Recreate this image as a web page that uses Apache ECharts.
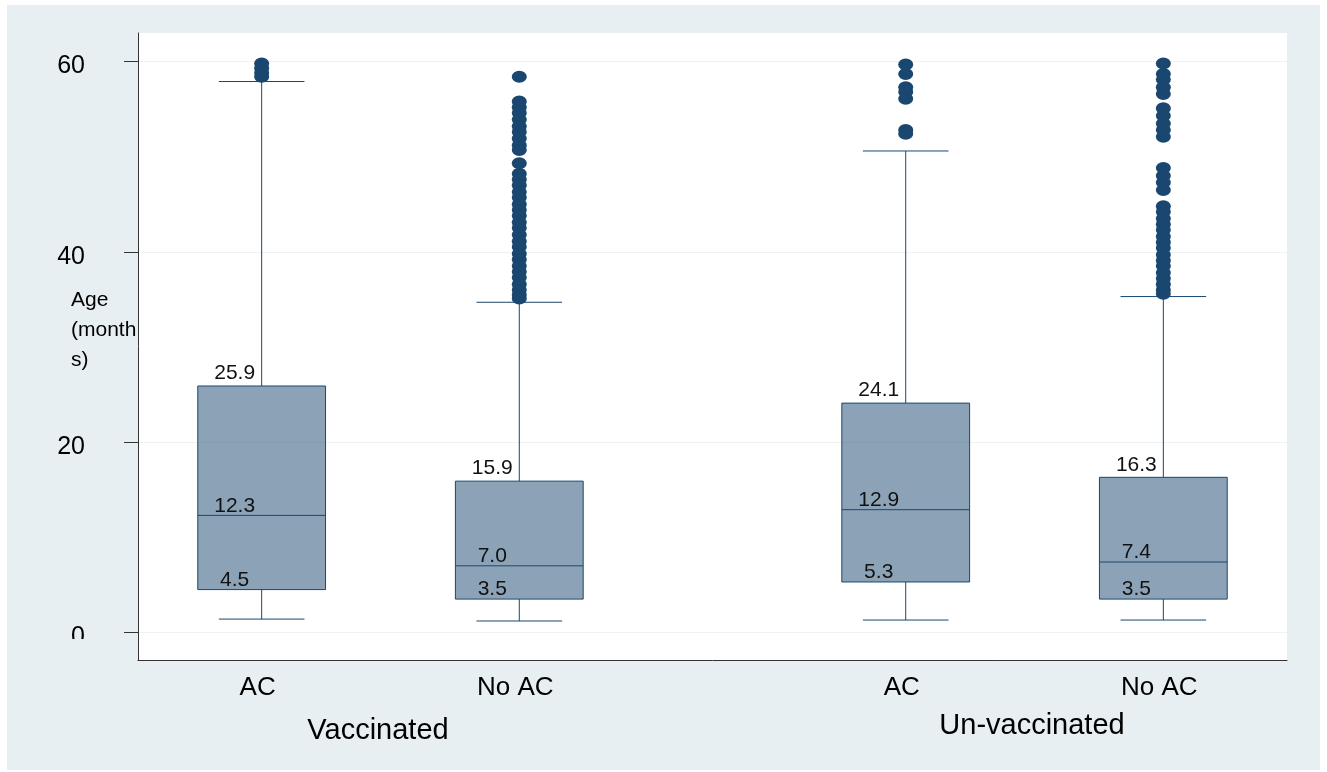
<!DOCTYPE html>
<html>
<head>
<meta charset="utf-8">
<script src="https://cdn.jsdelivr.net/npm/echarts@6/dist/echarts.min.js"></script>
<style>
  html, body { margin: 0; padding: 0; background: #ffffff; }
  #frame { position: absolute; left: 7px; top: 5px; width: 1313px; height: 765px; background: #e8eff2; }
  #chart { position: absolute; left: 0; top: 0; width: 1327px; height: 772px; }
</style>
</head>
<body>
<div id="frame"></div>
<div id="chart"></div>
<script>
// Age (months) by group and AC status: box summaries and outliers
const groups = ['Vaccinated', 'Un-vaccinated'];
const categories = ['AC', 'No AC', 'AC', 'No AC'];
const lowerWhisker = [1.4, 1.2, 1.3, 1.3];
const q1 = [4.5, 3.5, 5.3, 3.5];
const median = [12.3, 7.0, 12.9, 7.4];
const q3 = [25.9, 15.9, 24.1, 16.3];
const upperWhisker = [57.9, 34.7, 50.6, 35.3];
const outliers = [
  [59.8, 59.3, 58.8, 58.4],
  [58.4, 55.8, 55.2, 54.6, 53.9, 53.2, 52.6, 51.9, 51.2, 50.7, 49.3, 48.2, 47.6, 47.0, 46.3,
   45.7, 45.0, 44.4, 43.8, 43.1, 42.5, 41.8, 41.1, 40.5, 39.8, 39.2, 38.5, 37.9, 37.3, 36.6,
   36.0, 35.5, 35.1],
  [59.7, 58.7, 57.3, 56.8, 56.1, 52.8, 52.4],
  [59.8, 58.7, 58.1, 57.3, 56.6, 55.1, 54.3, 53.5, 52.8, 52.1, 48.8, 48.0, 47.3, 46.5,
   44.8, 44.2, 43.5, 42.9, 42.3, 41.6, 41.0, 40.4, 39.7, 39.1, 38.5, 37.8, 37.2, 36.6,
   36.0, 35.6]
];
const yTicks = [0, 20, 40, 60];
const yTitle = 'Age\n(month\ns)';

// Horizontal slots on the value axis: two boxes per group, wider gap between groups
const slots = [1, 2, 3.5, 4.5];

const NAVY = '#1a476f';
const FONT = "'Liberation Sans', Arial, sans-serif";

const boxData = categories.map((c, i) => [slots[i], lowerWhisker[i], q1[i], median[i], q3[i], upperWhisker[i]]);
const outlierData = [];
outliers.forEach((list, i) => list.forEach(v => outlierData.push([slots[i], v])));

function renderBox(params, api) {
  const x = api.value(0);
  const lo = api.coord([x, api.value(1)]);
  const b1 = api.coord([x, api.value(2)]);
  const md = api.coord([x, api.value(3)]);
  const b3 = api.coord([x, api.value(4)]);
  const hi = api.coord([x, api.value(5)]);
  const bw = api.size([0.496, 0])[0];
  const cw = bw * 0.67;
  const cx = lo[0];
  const lineStyle = { stroke: NAVY, lineWidth: 1, fill: null };
  const labelStyle = (val, y) => ({
    text: val.toFixed(1), x: cx - 27, y: y, align: 'center', verticalAlign: 'bottom',
    fontSize: 21, fontFamily: FONT, fill: '#111'
  });
  return {
    type: 'group',
    children: [
      { type: 'line', shape: { x1: cx, y1: b3[1], x2: cx, y2: hi[1] }, style: lineStyle },
      { type: 'line', shape: { x1: cx, y1: b1[1], x2: cx, y2: lo[1] }, style: lineStyle },
      { type: 'line', shape: { x1: cx - cw / 2, y1: hi[1], x2: cx + cw / 2, y2: hi[1] }, style: lineStyle },
      { type: 'line', shape: { x1: cx - cw / 2, y1: lo[1], x2: cx + cw / 2, y2: lo[1] }, style: lineStyle },
      { type: 'rect', shape: { x: cx - bw / 2, y: b3[1], width: bw, height: b1[1] - b3[1] },
        style: { fill: 'rgba(26,71,111,0.5)', stroke: NAVY, lineWidth: 1 } },
      { type: 'line', shape: { x1: cx - bw / 2, y1: md[1], x2: cx + bw / 2, y2: md[1] }, style: lineStyle },
      { type: 'text', style: labelStyle(api.value(4), b3[1] - 2) },
      { type: 'text', style: labelStyle(api.value(3), md[1] + 1) },
      { type: 'text', style: labelStyle(api.value(2), b1[1] + 1) }
    ]
  };
}

const chart = echarts.init(document.getElementById('chart'), null, { renderer: 'canvas' });
chart.setOption({
  animation: false,
  backgroundColor: 'transparent',
  grid: {
    left: 138, top: 33, width: 1149, height: 627,
    show: true, backgroundColor: '#ffffff', borderWidth: 0,
    containLabel: false, outerBoundsMode: 'none'
  },
  xAxis: {
    type: 'value', min: 0.52, max: 4.98,
    axisLine: { show: true, onZero: false, lineStyle: { color: '#333', width: 1 } },
    axisTick: { show: false },
    splitLine: { show: false },
    axisLabel: {
      customValues: slots,
      formatter: v => categories[slots.indexOf(v)] || '',
      margin: 15, padding: [0, 8, 0, 0],
      fontSize: 26, fontFamily: FONT, color: '#000'
    }
  },
  yAxis: {
    type: 'value', min: -2.9, max: 63,
    axisLine: { show: true, onZero: false, lineStyle: { color: '#333', width: 1 } },
    axisTick: { show: true, length: 14, customValues: yTicks, lineStyle: { color: '#333' } },
    splitLine: { show: true, lineStyle: { color: '#edf2f3', width: 1 } },
    axisLabel: {
      customValues: yTicks, margin: 53, verticalAlign: 'top', lineHeight: 10,
      fontSize: 25, fontFamily: FONT, color: '#000'
    }
  },
  graphic: [
    { type: 'text', left: 71, top: 285, z: 50,
      style: { text: yTitle, fontSize: 21, lineHeight: 30, fontFamily: FONT, fill: '#000' } },
    { type: 'text', x: 378, y: 731, z: 50,
      style: { text: groups[0], align: 'center', verticalAlign: 'middle', fontSize: 29, fontFamily: FONT, fill: '#000' } },
    { type: 'text', x: 1032, y: 726, z: 50,
      style: { text: groups[1], align: 'center', verticalAlign: 'middle', fontSize: 29, fontFamily: FONT, fill: '#000' } },
    { type: 'rect', shape: { x: 40, y: 639, width: 80, height: 20 }, z: 100,
      style: { fill: '#e8eff2' } }
  ],
  series: [
    { type: 'custom', renderItem: renderBox, data: boxData, z: 2,
      encode: { x: 0, y: [1, 2, 3, 4, 5] }, clip: false },
    { type: 'scatter', data: outlierData, symbol: 'circle', symbolSize: [15, 12], z: 3,
      itemStyle: { color: NAVY, opacity: 1 } }
  ]
});
</script>
</body>
</html>
